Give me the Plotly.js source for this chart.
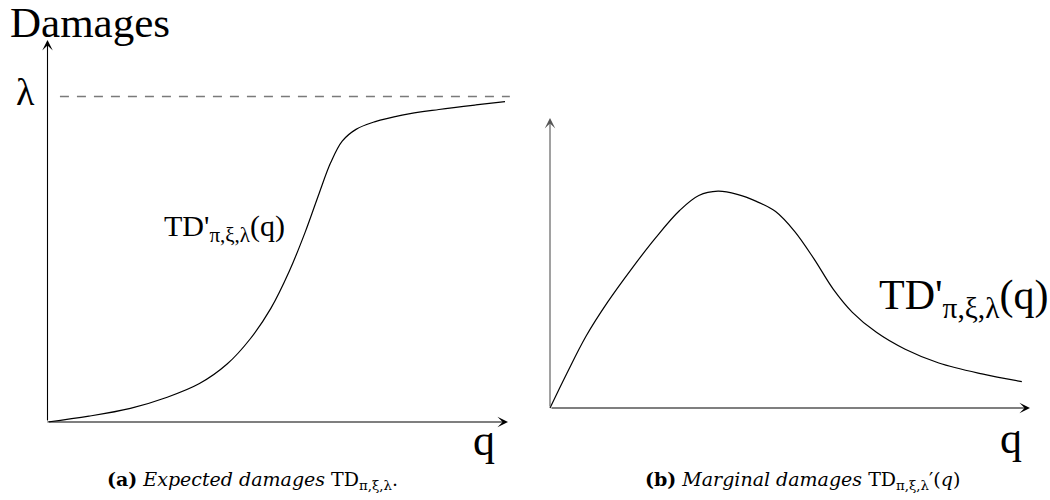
<!DOCTYPE html>
<html>
<head>
<meta charset="utf-8">
<script src="https://cdn.plot.ly/plotly-3.0.1.min.js"></script>
<style>
  html, body { margin: 0; padding: 0; background: #fff; }
  #chart { width: 1050px; height: 500px; }
</style>
</head>
<body>
<div id="chart"></div>
<script>
// Expected damages TD(q): an S-shaped curve saturating at lambda
const expectedQ = [0, 0.9, 1.8, 2.6, 3.3, 3.9, 4.4, 4.85, 5.25, 5.6, 5.9, 6.15, 6.4, 6.7, 7.1, 7.7, 8.5, 9.3, 9.935];
const expectedD = [0, 0.018, 0.042, 0.076, 0.118, 0.178, 0.255, 0.349, 0.463, 0.585, 0.703, 0.797, 0.863, 0.899, 0.922, 0.943, 0.960, 0.974, 0.984];

// Asymptote level lambda
const lambdaLevel = 1;
const lambdaQ = [0.27, 10.04];

// Marginal damages TD'(q): hump-shaped curve
const marginalQ = [0, 0.35, 0.75, 1.2, 1.7, 2.2, 2.7, 3.1, 3.5, 3.9, 4.3, 4.7, 5.1, 5.5, 5.9, 6.3, 6.8, 7.4, 8.1, 9.0, 9.83];
const marginalD = [0, 0.143, 0.297, 0.438, 0.576, 0.704, 0.817, 0.879, 0.897, 0.884, 0.855, 0.813, 0.730, 0.617, 0.492, 0.396, 0.313, 0.243, 0.186, 0.141, 0.109];

const W = 1050, H = 500;
const px = v => v / W;
const py = v => 1 - v / H;

// Panel geometry: origin pixel, arrow tips, and the data value at each tip
function panel(ox, oy, xTip, yTip, xMax, yMax) {
  const pad = 6;
  const sx = (xTip - ox) / xMax, sy = (oy - yTip) / yMax;
  return {
    xaxis: { domain: [(ox - pad) / W, (xTip + pad) / W], range: [-pad / sx, xMax + pad / sx] },
    yaxis: { domain: [(H - oy - pad) / H, (H - yTip + pad) / H], range: [-pad / sy, yMax + pad / sy] },
    xMax, yMax
  };
}
const left = panel(47.5, 422, 508, 40, 10, 1.1736);
const right = panel(550, 408, 1030, 118, 10, 1.2);

const hidden = { showgrid: false, zeroline: false, showline: false, showticklabels: false, ticks: '', fixedrange: true };

const traces = [
  { x: lambdaQ, y: [lambdaLevel, lambdaLevel], xaxis: 'x', yaxis: 'y', mode: 'lines',
    line: { color: '#7a7a7a', width: 1.4, dash: '9px,8px' }, hoverinfo: 'skip' },
  { x: expectedQ, y: expectedD, xaxis: 'x', yaxis: 'y', mode: 'lines',
    line: { color: '#000', width: 1.2, shape: 'spline', smoothing: 1 }, hoverinfo: 'skip' },
  { x: marginalQ, y: marginalD, xaxis: 'x2', yaxis: 'y2', mode: 'lines',
    line: { color: '#000', width: 1.2, shape: 'spline', smoothing: 1 }, hoverinfo: 'skip' }
];

// Axis arrows drawn as annotation arrows
function arrow(xa, ya, x, y, color) {
  return { xref: xa, yref: ya, axref: xa, ayref: ya, x: x, y: y, ax: 0, ay: 0,
    text: '', showarrow: true, arrowhead: 3, arrowsize: 1.6, arrowwidth: 1.1,
    arrowcolor: color, standoff: 0, startstandoff: 0 };
}

const serif = '"Liberation Serif", serif';
const capFont = '"DejaVu Serif", serif';
function label(text, x, y, size, anchor, family) {
  return { xref: 'paper', yref: 'paper', x: px(x), y: py(y), text: text, showarrow: false,
    xanchor: anchor || 'center', yanchor: 'middle', font: { family: family || serif, size: size, color: '#000' } };
}

const annotations = [
  arrow('x', 'y', left.xMax, 0, '#000'),
  arrow('x', 'y', 0, left.yMax, '#000'),
  arrow('x2', 'y2', right.xMax, 0, '#000'),
  arrow('x2', 'y2', 0, right.yMax, '#555'),
  label('Damages', 8, 22, 43, 'left'),
  label('λ', 25, 92, 38),
  label("TD'<sub>π,ξ,λ</sub>(q)", 162, 228, 30, 'left'),
  label("TD'<sub>π,ξ,λ</sub>(q)", 877, 298, 42, 'left'),
  label('q', 484, 440, 44),
  label('q', 1011, 438, 44),
  label('<b>(a)</b> <i>Expected damages</i> TD<sub>π,ξ,λ</sub>.', 252, 480, 19, 'center', capFont),
  label('<b>(b)</b> <i>Marginal damages</i> TD<sub>π,ξ,λ</sub>′(<i>q</i>)', 802, 480, 19, 'center', capFont)
];

const layout = {
  width: W, height: H,
  margin: { l: 0, r: 0, t: 0, b: 0 },
  paper_bgcolor: '#fff', plot_bgcolor: 'rgba(0,0,0,0)',
  showlegend: false,
  xaxis: Object.assign({}, hidden, left.xaxis, { anchor: 'y' }),
  yaxis: Object.assign({}, hidden, left.yaxis, { anchor: 'x' }),
  xaxis2: Object.assign({}, hidden, right.xaxis, { anchor: 'y2' }),
  yaxis2: Object.assign({}, hidden, right.yaxis, { anchor: 'x2' }),
  annotations: annotations
};

Plotly.newPlot('chart', traces, layout, { staticPlot: true, displayModeBar: false });
</script>
</body>
</html>
